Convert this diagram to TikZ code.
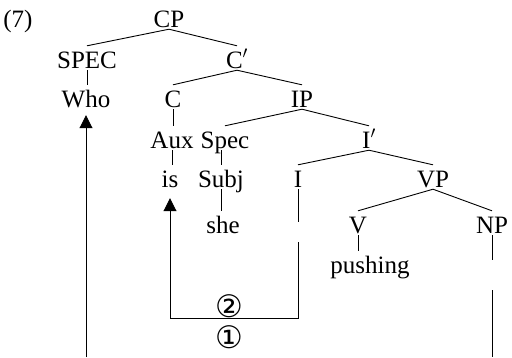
\documentclass[tikz,border=0pt]{standalone}
\usepackage{fontspec}
\setmainfont{Liberation Serif}
\newfontfamily\symfont{DejaVu Sans}
\usetikzlibrary{arrows.meta}
\begin{document}
\begin{tikzpicture}[x=1pt,y=-1pt,
  lbl/.style={inner sep=0pt, text height=22pt, text depth=2pt, anchor=base, font=\fontsize{25}{28}\selectfont},
  edge/.style={line width=0.9pt},
  mv/.style={line width=0.9pt, -{Triangle[length=13pt,width=13pt]}},
  circ/.style={inner sep=0pt, font=\symfont\fontsize{31}{31}\selectfont}]
\useasboundingbox (0,0) rectangle (512,357);
% labels
\node[lbl] (n7) at (18,27) {(7)};
\node[lbl] (cp) at (169,27) {CP};
\node[lbl] (spec) at (87,68) {SPEC};
\node[lbl] (cbar) at (237,68) {C$'$};
\node[lbl] (who) at (86,107) {Who};
\node[lbl] (c) at (173,107) {C};
\node[lbl] (ip) at (302,107) {IP};
\node[lbl] (aux) at (172,148) {Aux};
\node[lbl] (sspec) at (225,148) {Spec};
\node[lbl] (ibar) at (369,148) {I$'$};
\node[lbl] (is) at (170,187) {is};
\node[lbl] (subj) at (221,187) {Subj};
\node[lbl] (i) at (298,187) {I};
\node[lbl] (vp) at (433,187) {VP};
\node[lbl] (she) at (223,233) {she};
\node[lbl] (v) at (358,233) {V};
\node[lbl] (np) at (492,233) {NP};
\node[lbl] (push) at (370,273) {pushing};
\node[circ] (c2) at (229,306) {②};
\node[circ] (c1) at (229,337) {①};
% branches
\draw[edge] (cp.south) -- (spec.north);
\draw[edge] (cp.south) -- (cbar.north);
\draw[edge] (spec.south) -- (spec.south |- who.north);
\draw[edge] (cbar.south) -- (c.north);
\draw[edge] (cbar.south) -- (ip.north);
\draw[edge] (c.south) -- (c.south |- aux.north);
\draw[edge] (ip.south) -- (sspec.north);
\draw[edge] (ip.south) -- (ibar.north);
\draw[edge] (aux.south) -- (aux.south |- is.north);
\draw[edge] (subj.north |- sspec.south) -- (subj.north);
\draw[edge] (subj.south) -- (subj.south |- she.north);
\draw[edge] (ibar.south) -- (i.north);
\draw[edge] (ibar.south) -- (vp.north);
\draw[edge] (vp.south) -- (v.north);
\draw[edge] (vp.south) -- (np.north);
\draw[edge] (v.south) -- (v.south |- push.north);
% traces
\coordinate (ibot) at (i.south |- 0,222);
\coordinate (itop) at (i.south |- 0,242);
\coordinate (icorner) at (i.south |- 0,318);
\draw[edge] (i.south) -- (ibot);
\draw[mv, shorten >=9pt] (itop) -- (icorner) -| (is.south);
\coordinate (npa) at (np.south |- 0,260);
\coordinate (npb) at (np.south |- 0,290);
\coordinate (npc) at (np.south |- 0,357);
\draw[edge] (np.south) -- (npa);
\draw[edge] (npb) -- (npc);
\coordinate (whobot) at (who.south |- 0,357);
\draw[mv, shorten >=6pt] (whobot) -- (who.south);
\end{tikzpicture}
\end{document}
